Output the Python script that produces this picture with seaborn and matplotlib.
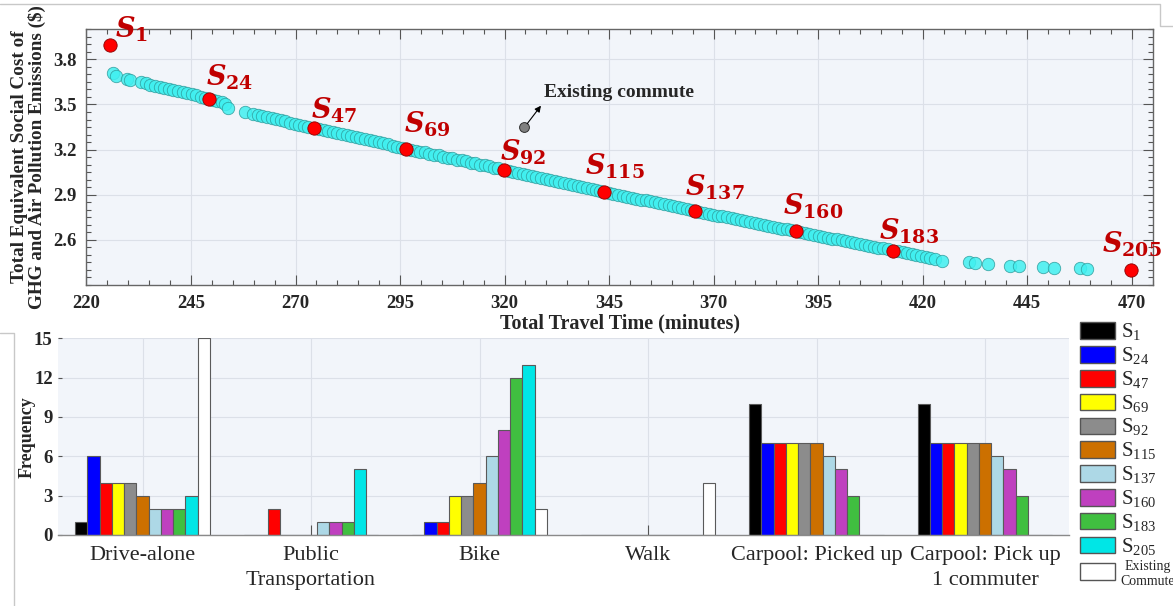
import numpy as np
import pandas as pd
import matplotlib
matplotlib.use("Agg")
import matplotlib.pyplot as plt
from matplotlib.lines import Line2D
from matplotlib.ticker import MultipleLocator
import seaborn as sns

# ---------------------------------------------------------------------------
# Pareto front: total travel time (min) vs. social cost of emissions ($)
# ---------------------------------------------------------------------------
front_time = [
    226.4, 227.0, 229.7, 230.3, 233.0, 234.2, 235.3, 236.4, 237.5, 238.6,
    239.7, 240.8, 241.9, 243.0, 244.1, 245.2, 246.3, 247.4, 248.3, 250.2,
    251.3, 252.4, 253.1, 253.9,
    257.8, 259.9, 261.0, 262.1, 263.2, 264.3, 265.4, 266.5, 267.6, 268.7,
    269.8, 270.9, 272.0, 273.1, 275.6, 276.7, 277.8, 278.9, 280.0, 281.1,
    282.2, 283.3, 284.4, 285.5, 286.6, 287.7, 288.8, 289.9, 291.0, 292.1,
    293.2, 294.3, 295.4, 297.6, 298.7, 299.8,
    300.9, 302.0, 303.1, 304.2, 305.3, 306.4, 307.5, 308.6, 309.7, 310.8,
    311.9, 313.0, 314.1, 315.2, 316.3, 317.4, 318.5, 321.0, 322.1, 323.2,
    324.3, 325.4, 326.5, 327.6, 328.7, 329.8, 330.9, 332.0, 333.1, 334.2,
    335.3, 336.4, 337.5, 338.6, 339.7, 340.8, 341.9, 342.9,
    344.9, 346.0, 347.1, 348.2, 349.3, 350.4, 351.5, 352.6, 353.7, 354.8,
    355.9, 357.0, 358.1, 359.2, 360.3, 361.4, 362.5, 363.6, 364.6, 366.6,
    367.7, 368.8, 369.9, 371.0, 372.1, 373.2, 374.3, 375.4, 376.5, 377.6,
    378.7, 379.8, 380.9, 382.0, 383.1, 384.2, 385.3, 386.4, 387.5, 388.6,
    390.7, 391.8, 392.9, 394.0, 395.1, 396.2, 397.3, 398.4, 399.5, 400.6,
    401.7, 402.8, 403.9, 405.0, 406.1, 407.2, 408.3, 409.4, 410.5, 411.6,
    414.1, 415.2, 416.3, 417.4, 418.5, 419.6, 420.7, 421.8, 423.0, 424.6,
    431.0, 432.6, 435.5, 440.9, 443.1, 448.8, 451.4, 457.5, 459.4,
]
front_cost = [
    3.712, 3.688, 3.672, 3.665, 3.647, 3.640, 3.632, 3.625, 3.618, 3.610,
    3.602, 3.596, 3.588, 3.582, 3.575, 3.568, 3.560, 3.553, 3.546, 3.532,
    3.525, 3.518, 3.500, 3.475,
    3.450, 3.436, 3.430, 3.423, 3.416, 3.409, 3.401, 3.394, 3.387, 3.380,
    3.373, 3.366, 3.359, 3.352, 3.337, 3.330, 3.323, 3.316, 3.309, 3.302,
    3.296, 3.289, 3.282, 3.275, 3.268, 3.261, 3.255, 3.248, 3.241, 3.234,
    3.227, 3.220, 3.213, 3.200, 3.194, 3.187,
    3.181, 3.174, 3.167, 3.161, 3.154, 3.147, 3.141, 3.134, 3.128, 3.121,
    3.114, 3.108, 3.101, 3.095, 3.088, 3.081, 3.075, 3.060, 3.053, 3.046,
    3.039, 3.033, 3.026, 3.019, 3.013, 3.006, 2.999, 2.992, 2.986, 2.979,
    2.972, 2.966, 2.959, 2.952, 2.945, 2.938, 2.932, 2.925,
    2.914, 2.907, 2.901, 2.894, 2.888, 2.881, 2.875, 2.868, 2.862, 2.856,
    2.849, 2.843, 2.836, 2.830, 2.823, 2.817, 2.811, 2.804, 2.798, 2.787,
    2.781, 2.774, 2.768, 2.762, 2.756, 2.750, 2.743, 2.737, 2.731, 2.725,
    2.719, 2.712, 2.706, 2.700, 2.694, 2.687, 2.681, 2.675, 2.669, 2.663,
    2.651, 2.645, 2.639, 2.633, 2.627, 2.621, 2.615, 2.609, 2.603, 2.597,
    2.591, 2.585, 2.579, 2.573, 2.567, 2.561, 2.555, 2.549, 2.543, 2.537,
    2.523, 2.517, 2.510, 2.504, 2.498, 2.492, 2.486, 2.480, 2.473, 2.462,
    2.452, 2.443, 2.438, 2.428, 2.428, 2.418, 2.416, 2.414, 2.405,
]

# Highlighted solutions on the front
selected_ids = [1, 24, 47, 69, 92, 115, 137, 160, 183, 205]
selected_time = [225.6, 249.2, 274.4, 296.5, 319.8, 343.8, 365.5, 389.6, 413.0, 469.7]
selected_cost = [3.893, 3.535, 3.344, 3.207, 3.067, 2.920, 2.793, 2.657, 2.529, 2.400]

# Current (existing) commute pattern
existing_time = [324.6]
existing_cost = [3.350]

# ---------------------------------------------------------------------------
# Mode-choice frequencies per solution
# ---------------------------------------------------------------------------
modes = ["Drive-alone", "Public\nTransportation", "Bike", "Walk",
         "Carpool: Picked up", "Carpool: Pick up\n1 commuter"]
solutions = ["S1", "S24", "S47", "S69", "S92", "S115", "S137", "S160",
             "S183", "S205", "Existing"]
freq_drive_alone = [1, 6, 4, 4, 4, 3, 2, 2, 2, 3, 15]
freq_public_transport = [0, 0, 2, 0, 0, 0, 1, 1, 1, 5, 0]
freq_bike = [0, 1, 1, 3, 3, 4, 6, 8, 12, 13, 2]
freq_walk = [0, 0, 0, 0, 0, 0, 0, 0, 0, 0, 4]
freq_carpool_picked_up = [10, 7, 7, 7, 7, 7, 6, 5, 3, 0, 0]
freq_carpool_pick_up = [10, 7, 7, 7, 7, 7, 6, 5, 3, 0, 0]

bar_colors = ["#000000", "#0000FF", "#FF0000", "#FFFF00", "#8C8C8C",
              "#CC7000", "#ADD8E6", "#BF40BF", "#40BF40", "#00E6E6", "#FFFFFF"]

# ---------------------------------------------------------------------------
# Style
# ---------------------------------------------------------------------------
sns.set_style("ticks")
plt.rcParams["font.family"] = ["Liberation Serif", "DejaVu Serif"]
plt.rcParams["mathtext.fontset"] = "custom"
plt.rcParams["mathtext.it"] = "DejaVu Serif:italic:bold"
plt.rcParams["mathtext.rm"] = "DejaVu Serif:bold"
plt.rcParams["mathtext.bf"] = "DejaVu Serif:bold"
plt.rcParams["mathtext.sf"] = "Liberation Serif"

PANEL_BG = "#F2F5FA"
GRID_C = "#DCE0E8"
LABEL_RED = "#C00000"

fig = plt.figure(figsize=(11.73, 6.06), dpi=100)
fig.patch.set_facecolor("white")

# ---------------------------------------------------------------------------
# Top panel: Pareto front
# ---------------------------------------------------------------------------
ax1 = fig.add_axes([0.0737, 0.5297, 0.9090, 0.4220])
ax1.set_facecolor(PANEL_BG)
ax1.set_axisbelow(True)

sns.scatterplot(x=front_time, y=front_cost, ax=ax1, s=80,
                color="#40F0F0", alpha=0.85, edgecolor="#2E9C9C",
                linewidth=0.6, zorder=3, legend=False)
sns.scatterplot(x=selected_time, y=selected_cost, ax=ax1, s=92,
                color="#FF0000", edgecolor="#8B0000", linewidth=0.6,
                zorder=4, legend=False)
sns.scatterplot(x=existing_time, y=existing_cost, ax=ax1, s=50,
                color="#808080", edgecolor="#303030", linewidth=0.7,
                zorder=4, legend=False)

# Solution labels (pixel offsets of the label corner from each point)
label_offsets = {1: (5, 1), 24: (-3, 7), 47: (-3, 3), 69: (-2, 10),
                 92: (-4, 3), 115: (-19, 11), 137: (-10, 9), 160: (-13, 10),
                 183: (-14, 5), 205: (-29, 11)}
for sid, tx, cy in zip(selected_ids, selected_time, selected_cost):
    ax1.annotate(rf"$S_{{{sid}}}$", xy=(tx, cy), xytext=label_offsets[sid],
                 textcoords="offset pixels", ha="left", va="bottom",
                 fontsize=19.5, color=LABEL_RED, zorder=6)

# Existing commute marker with arrow
ax1.annotate("", xy=(328.7, 3.492), xytext=(325.4, 3.372),
             arrowprops=dict(arrowstyle="-|>", color="black", lw=0.8,
                             mutation_scale=9, shrinkA=0, shrinkB=0),
             zorder=5)
ax1.text(329.4, 3.548, "Existing commute", fontsize=14, fontweight="bold",
         ha="left", va="baseline", zorder=6)

ax1.set_xlim(220, 475)
ax1.set_ylim(2.3, 4.0)
ax1.set_xticks(np.arange(220, 471, 25))
ax1.set_yticks([2.6, 2.9, 3.2, 3.5, 3.8])
ax1.xaxis.set_minor_locator(MultipleLocator(5))
ax1.yaxis.set_minor_locator(MultipleLocator(0.05))
ax1.grid(True, which="major", color=GRID_C, lw=0.8)
ax1.tick_params(which="both", direction="in", top=True, right=True,
                color="#555555", width=0.8)
ax1.tick_params(which="major", length=7, labelsize=13.5, pad=7)
ax1.tick_params(which="minor", length=3.5)
for lab in ax1.get_xticklabels() + ax1.get_yticklabels():
    lab.set_fontweight("bold")
for sp in ax1.spines.values():
    sp.set_color("#666666")
    sp.set_linewidth(1.0)
ax1.set_xlabel("Total Travel Time (minutes)", fontsize=14.5,
               fontweight="bold", labelpad=1)
ax1.set_ylabel("Total Equivalent Social Cost of\nGHG and Air Pollution Emissions ($)",
               fontsize=13.8, fontweight="bold", labelpad=5, linespacing=1.0)

# ---------------------------------------------------------------------------
# Bottom panel: mode-choice frequency per solution
# ---------------------------------------------------------------------------
freq_table = pd.DataFrame({
    "Drive-alone": freq_drive_alone,
    "Public\nTransportation": freq_public_transport,
    "Bike": freq_bike,
    "Walk": freq_walk,
    "Carpool: Picked up": freq_carpool_picked_up,
    "Carpool: Pick up\n1 commuter": freq_carpool_pick_up,
}, index=solutions)
long_df = (freq_table.reset_index(names="solution")
           .melt(id_vars="solution", var_name="mode", value_name="frequency"))

ax2 = fig.add_axes([0.0497, 0.1172, 0.8619, 0.3245])
ax2.set_facecolor(PANEL_BG)
sns.barplot(data=long_df, x="mode", y="frequency", hue="solution",
            order=modes, hue_order=solutions, palette=bar_colors,
            width=0.8, edgecolor="#5A5A5A", linewidth=0.8, saturation=1,
            ax=ax2, zorder=2)

ax2.set_xlim(-0.5, len(modes) - 0.5)
ax2.set_ylim(0, 15)
ax2.set_yticks(np.arange(0, 16, 3))
for yv in ax2.get_yticks():
    ax2.axhline(yv, color=GRID_C, lw=0.8, zorder=0.5)
for xv in ax2.get_xticks():
    ax2.axvline(xv, color=GRID_C, lw=0.8, zorder=0.5)
ax2.tick_params(axis="x", direction="in", length=7, color="#555555",
                width=0.8, labelsize=16, pad=8)
ax2.tick_params(axis="y", direction="in", length=3, color="#555555",
                width=0.8, labelsize=13.5, pad=4)
for lab in ax2.get_yticklabels():
    lab.set_fontweight("bold")
for lab in ax2.get_xticklabels():
    lab.set_linespacing(1.4)
ax2.set_xlabel("")
ax2.set_ylabel("Frequency", fontsize=13, fontweight="bold", labelpad=-1)
for side in ("top", "right", "left"):
    ax2.spines[side].set_visible(False)
ax2.spines["bottom"].set_color("#8A8A8A")
ax2.spines["bottom"].set_linewidth(1.0)
ax2.spines["bottom"].set_zorder(3)

# Legend beside the bar panel
old_leg = ax2.get_legend()
handles = old_leg.legend_handles
old_leg.remove()
legend_labels = [rf"$\mathsf{{S}}_{{\mathsf{{{s[1:]}}}}}$" for s in solutions[:-1]]
legend_labels.append("Existing\nCommute")
leg = fig.legend(handles, legend_labels, loc="upper left",
                 bbox_to_anchor=(1080 / 1173, 1 - 322 / 606),
                 frameon=False, fontsize=15, handlelength=1.7,
                 handleheight=0.85, handletextpad=0.25, labelspacing=0.12,
                 borderpad=0, borderaxespad=0)
for h, c in zip(leg.legend_handles, bar_colors):
    h.set_facecolor(c)
    h.set_edgecolor("#555555")
    h.set_linewidth(1.0)
last = leg.get_texts()[-1]
last.set_fontsize(10)
last.set_multialignment("center")

# Thin panel frame lines of the composite figure
W, H = 1173, 606
frame_kw = dict(color="#C8C8C8", lw=1.0, transform=fig.transFigure)
fig.add_artist(Line2D([0, 1160 / W, 1160 / W, 1],
                      [1 - 4 / H, 1 - 4 / H, 1 - 26 / H, 1 - 26 / H], **frame_kw))
fig.add_artist(Line2D([0, 14 / W, 14 / W],
                      [1 - 333 / H, 1 - 333 / H, 0], **frame_kw))

fig.savefig("out.png", dpi=100, facecolor="white")
